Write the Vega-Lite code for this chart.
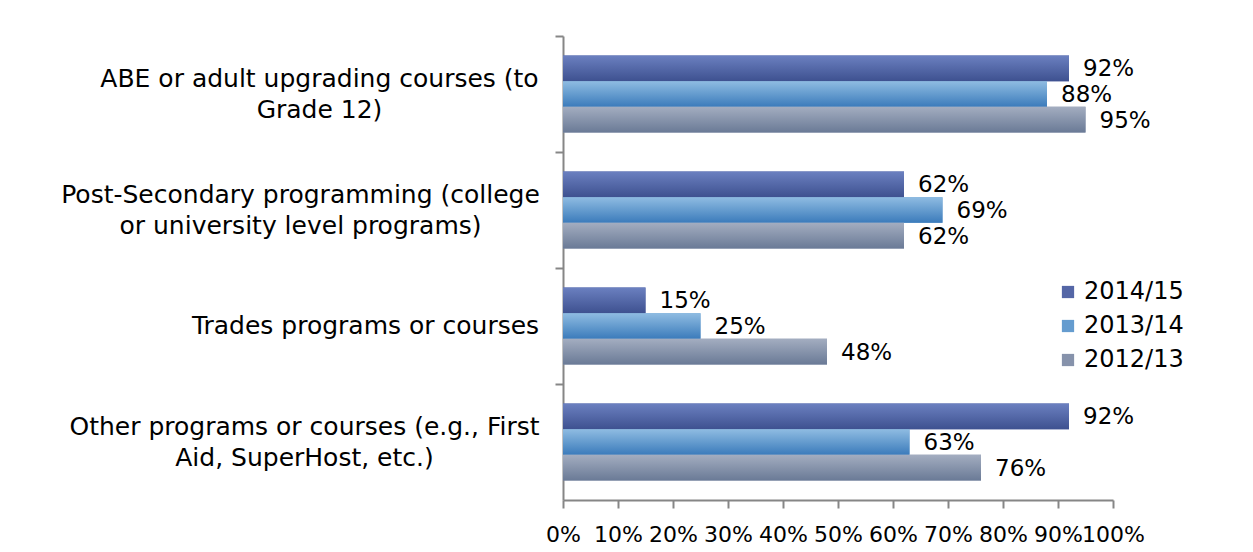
{
  "$schema": "https://vega.github.io/schema/vega-lite/v6.json",
  "width": 550,
  "height": 464,
  "autosize": {"type": "none"},
  "padding": {"left": 563, "top": 36, "right": 140, "bottom": 52},
  "background": "white",
  "config": {"view": {"stroke": null}, "font": "DejaVu Sans"},
  "data": {
    "values": [
      {"program": "ABE or adult upgrading courses (to|Grade 12)", "year": "2014/15", "value": 0.92},
      {"program": "ABE or adult upgrading courses (to|Grade 12)", "year": "2013/14", "value": 0.88},
      {"program": "ABE or adult upgrading courses (to|Grade 12)", "year": "2012/13", "value": 0.95},
      {"program": "Post-Secondary programming (college|or university level programs)", "year": "2014/15", "value": 0.62},
      {"program": "Post-Secondary programming (college|or university level programs)", "year": "2013/14", "value": 0.69},
      {"program": "Post-Secondary programming (college|or university level programs)", "year": "2012/13", "value": 0.62},
      {"program": "Trades programs or courses", "year": "2014/15", "value": 0.15},
      {"program": "Trades programs or courses", "year": "2013/14", "value": 0.25},
      {"program": "Trades programs or courses", "year": "2012/13", "value": 0.48},
      {"program": "Other programs or courses (e.g., First|Aid, SuperHost, etc.)", "year": "2014/15", "value": 0.92},
      {"program": "Other programs or courses (e.g., First|Aid, SuperHost, etc.)", "year": "2013/14", "value": 0.63},
      {"program": "Other programs or courses (e.g., First|Aid, SuperHost, etc.)", "year": "2012/13", "value": 0.76}
    ]
  },
  "encoding": {
    "y": {
      "field": "program",
      "type": "nominal",
      "sort": null,
      "scale": {"paddingInner": 0, "paddingOuter": 0},
      "axis": {
        "title": null,
        "bandPosition": 0,
        "labelOffset": {"condition": {"test": "indexof(datum.label, '|') >= 0", "value": -15.5}, "value": 0},
        "labelExpr": "split(datum.label, '|')",
        "labelAlign": "center",
        "labelPadding": {
          "condition": [
            {"test": "indexof(datum.label, 'ABE') == 0", "value": 236},
            {"test": "indexof(datum.label, 'Post') == 0", "value": 255},
            {"test": "indexof(datum.label, 'Trades') == 0", "value": 190}
          ],
          "value": 251
        },
        "labelFontSize": 25,
        "labelLineHeight": 31,
        "labelColor": "#000000",
        "labelLimit": 0,
        "labelOverlap": false,
        "tickSize": 8,
        "tickWidth": 2,
        "tickColor": "#868686",
        "domainColor": "#868686",
        "domainWidth": 2
      }
    },
    "yOffset": {
      "field": "year",
      "type": "nominal",
      "sort": ["2014/15", "2013/14", "2012/13"],
      "scale": {"paddingInner": 0, "paddingOuter": 0.76}
    },
    "x": {
      "field": "value",
      "type": "quantitative",
      "scale": {"domain": [0, 1]},
      "axis": {
        "title": null,
        "format": ".0%",
        "values": [0, 0.1, 0.2, 0.3, 0.4, 0.5, 0.6, 0.7, 0.8, 0.9, 1],
        "grid": false,
        "labelFontSize": 22,
        "labelColor": "#000000",
        "labelPadding": 16,
        "labelOverlap": false,
        "labelFlush": false,
        "tickSize": 8,
        "tickWidth": 2,
        "tickColor": "#868686",
        "domainColor": "#868686",
        "domainWidth": 2
      }
    }
  },
  "layer": [
    {
      "mark": {"type": "bar"},
      "encoding": {
        "color": {
          "field": "year",
          "type": "nominal",
          "scale": {
            "domain": ["2014/15", "2013/14", "2012/13"],
            "range": ["#5466a6", "#659ccf", "#8692ab"]
          },
          "legend": {
            "orient": "none",
            "legendX": 493,
            "legendY": 244,
            "title": null,
            "labelFontSize": 24,
            "labelColor": "#000000",
            "labelOffset": 4,
            "symbolType": "square",
            "symbolSize": 150,
            "symbolStrokeWidth": 0,
            "symbolOpacity": 1,
            "rowPadding": 10
          }
        }
      }
    },
    {
      "transform": [{"filter": "datum.year == '2014/15'"}],
      "mark": {"type": "bar", "color": {"gradient": "linear", "x1": 0, "y1": 0, "x2": 0, "y2": 1, "stops": [{"offset": 0, "color": "#6b80c0"}, {"offset": 1, "color": "#3e5190"}]}}
    },
    {
      "transform": [{"filter": "datum.year == '2013/14'"}],
      "mark": {"type": "bar", "color": {"gradient": "linear", "x1": 0, "y1": 0, "x2": 0, "y2": 1, "stops": [{"offset": 0, "color": "#8fbce2"}, {"offset": 1, "color": "#3b7bbb"}]}}
    },
    {
      "transform": [{"filter": "datum.year == '2012/13'"}],
      "mark": {"type": "bar", "color": {"gradient": "linear", "x1": 0, "y1": 0, "x2": 0, "y2": 1, "stops": [{"offset": 0, "color": "#a3adc0"}, {"offset": 1, "color": "#6a7a96"}]}}
    },
    {
      "mark": {"type": "text", "align": "left", "baseline": "middle", "dx": 14, "dy": 1, "fontSize": 23, "color": "#000000"},
      "encoding": {"text": {"field": "value", "type": "quantitative", "format": ".0%"}}
    }
  ]
}
